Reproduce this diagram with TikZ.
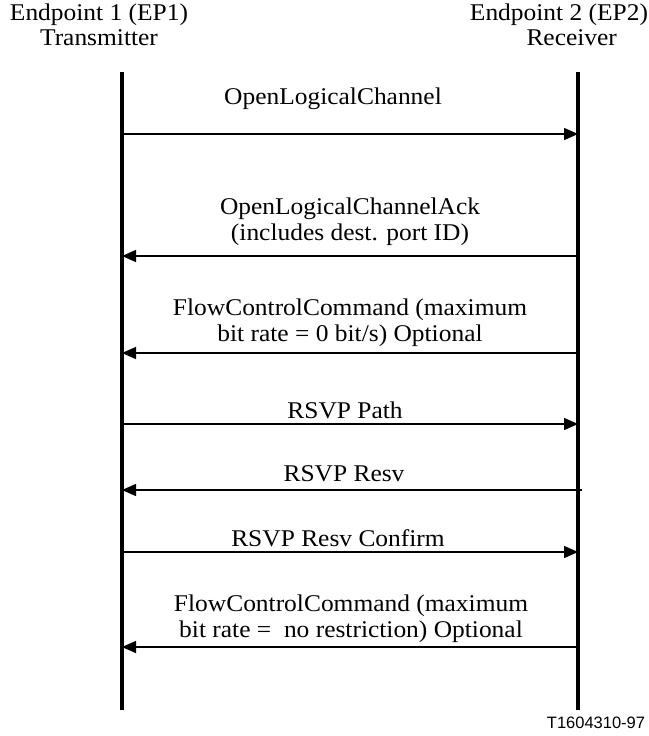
\documentclass[tikz,border=0pt]{standalone}
\usepackage{fontspec}
\setmainfont{Liberation Serif}[FakeStretch=1.06]
\newfontfamily\tagfont{Liberation Sans}
\usetikzlibrary{arrows.meta, positioning}
\tikzset{
  every picture/.style={x=1pt, y=-1pt},
  party/.style={font=\fontsize{24}{25}\selectfont, align=center, inner sep=0pt},
  lifeline/.style={line width=4pt},
  msg/.style={-{Triangle[length=14pt, width=12pt]}, line width=1.4pt},
  label/.style={font=\fontsize{24}{26}\selectfont, align=center, inner sep=0pt},
  tag/.style={font=\tagfont\fontsize{16.5}{16.5}\selectfont, inner sep=0pt},
}

\begin{document}
\begin{tikzpicture}
  \useasboundingbox (0,0) rectangle (648,736);
  \node[party] (ep1) at (99,25) {Endpoint 1 (EP1)\\Transmitter};
  \node[party] (ep2) at (559,25) {Endpoint 2 (EP2)\\\hphantom{xx}Receiver};
  % lifelines
  \coordinate (top1) at (122,72);  \coordinate (bot1) at (122,710);
  \coordinate (top2) at (578,72);  \coordinate (bot2) at (578,710);
  \draw[lifeline] (top1) -- (bot1);
  \draw[lifeline] (top2) -- (bot2);
  % message ends
  \coordinate (a1) at (122,134); \coordinate (b1) at (578,134);
  \coordinate (a2) at (122,256); \coordinate (b2) at (578,256);
  \coordinate (a3) at (122,353); \coordinate (b3) at (578,353);
  \coordinate (a4) at (122,424); \coordinate (b4) at (578,424);
  \coordinate (a5) at (122,490); \coordinate (b5) at (582,490);
  \coordinate (a6) at (122,552); \coordinate (b6) at (578,552);
  \coordinate (a7) at (122,647); \coordinate (b7) at (580,647);
  \draw[msg] (a1) -- (b1) node[label, midway, above=24pt, xshift=-17pt] (m1) {OpenLogicalChannel};
  \draw[msg] (b2) -- (a2) node[label, midway, above=10pt] (m2) {OpenLogicalChannelAck\\ (includes dest. port ID)};
  \draw[msg] (b3) -- (a3) node[label, midway, above=6pt] (m3) {FlowControlCommand (maximum\\bit rate = 0 bit/s) Optional};
  \draw[msg] (a4) -- (b4) node[label, midway, above=4pt, xshift=-5pt] (m4) {RSVP Path};
  \draw[msg] (b5) -- (a5) node[label, midway, above=7pt, xshift=-8pt] (m5) {RSVP Resv};
  \draw[msg] (a6) -- (b6) node[label, midway, above=4pt, xshift=-12pt] (m6) {RSVP Resv Confirm};
  \draw[msg] (b7) -- (a7) node[label, midway, above=4pt] (m7) {FlowControlCommand (maximum\\bit rate = \ no restriction) Optional};
  \node[tag] (fig) at (596,723) {T1604310-97};
\end{tikzpicture}
\end{document}
